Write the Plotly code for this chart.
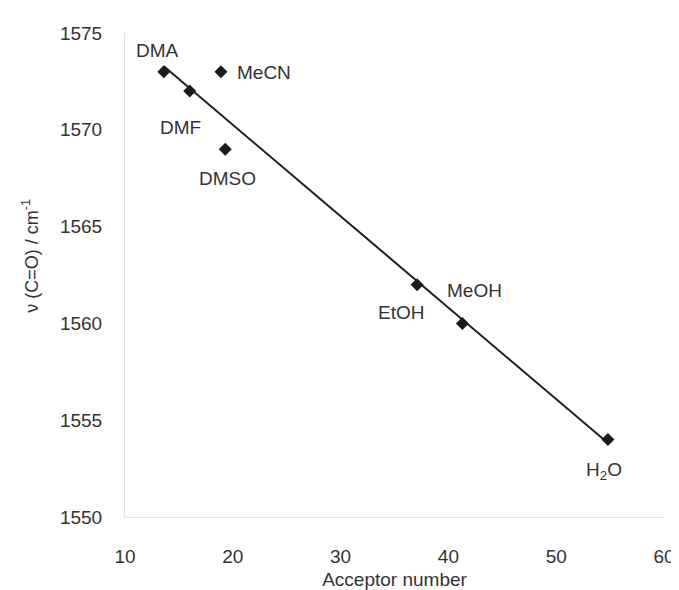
import numpy as np
import plotly.graph_objects as go

solvents = ["DMA", "DMF", "MeCN", "DMSO", "EtOH", "MeOH", "H<sub>2</sub>O"]
acceptor_number = [13.6, 16.0, 18.9, 19.3, 37.1, 41.3, 54.8]
nu_co = [1573, 1572, 1573, 1569, 1562, 1560, 1554]

# label offsets (pixels) relative to each point
label_dx = [-6, -9, 14, 2, -16, 12, -4]
label_dy = [21, -36, -1, -29, -28, 33, -31]
label_anchor = ["center", "center", "left", "center", "center", "center", "center"]

x_ticks = [10, 20, 30, 40, 50, 60]
y_ticks = [1550, 1555, 1560, 1565, 1570, 1575]

slope, intercept = np.polyfit(acceptor_number, nu_co, 1)
fit_x = [min(acceptor_number), max(acceptor_number)]
fit_y = [slope * v + intercept for v in fit_x]

font_family = "Liberation Sans, Arial, sans-serif"
text_color = "#333333"

fig = go.Figure()
fig.add_trace(go.Scatter(x=fit_x, y=fit_y, mode="lines",
                         line=dict(color="#1e1e1e", width=2), showlegend=False,
                         hoverinfo="skip"))
fig.add_trace(go.Scatter(x=acceptor_number, y=nu_co, mode="markers",
                         marker=dict(symbol="diamond", size=10, color="#1a1a1a"),
                         showlegend=False))

for s, xv, yv, dx, dy, anc in zip(solvents, acceptor_number, nu_co, label_dx, label_dy, label_anchor):
    fig.add_annotation(x=xv, y=yv, text=s, showarrow=False, xshift=dx, yshift=dy,
                       xanchor=anc, yanchor="middle",
                       font=dict(family=font_family, size=19, color=text_color))

# y-axis title placed as a rotated annotation
fig.add_annotation(xref="paper", x=0, xanchor="center", xshift=-94,
                   yref="y", y=1563.5, yanchor="middle",
                   text="ν (C=O) / cm<sup>-1</sup>", textangle=-90, showarrow=False,
                   font=dict(family=font_family, size=18, color=text_color))

fig.update_xaxes(range=[10, 60], tickvals=x_ticks, showgrid=False, zeroline=False,
                 showline=True, linecolor="#e2e2e2", linewidth=1,
                 ticks="", ticklabelstandoff=22, ticklabeloverflow="allow",
                 tickfont=dict(family=font_family, size=19, color=text_color),
                 title=dict(text="Acceptor number", standoff=6,
                            font=dict(family=font_family, size=19, color=text_color)))
fig.update_yaxes(range=[1550, 1575], tickvals=y_ticks, showgrid=False, zeroline=False,
                 showline=True, linecolor="#e2e2e2", linewidth=1,
                 ticks="", ticklabelstandoff=18,
                 tickfont=dict(family=font_family, size=19, color=text_color))

fig.update_layout(width=679, height=590, margin=dict(l=117, r=17, t=25, b=79),
                  plot_bgcolor="white", paper_bgcolor="white")

fig.write_html("out.html")
